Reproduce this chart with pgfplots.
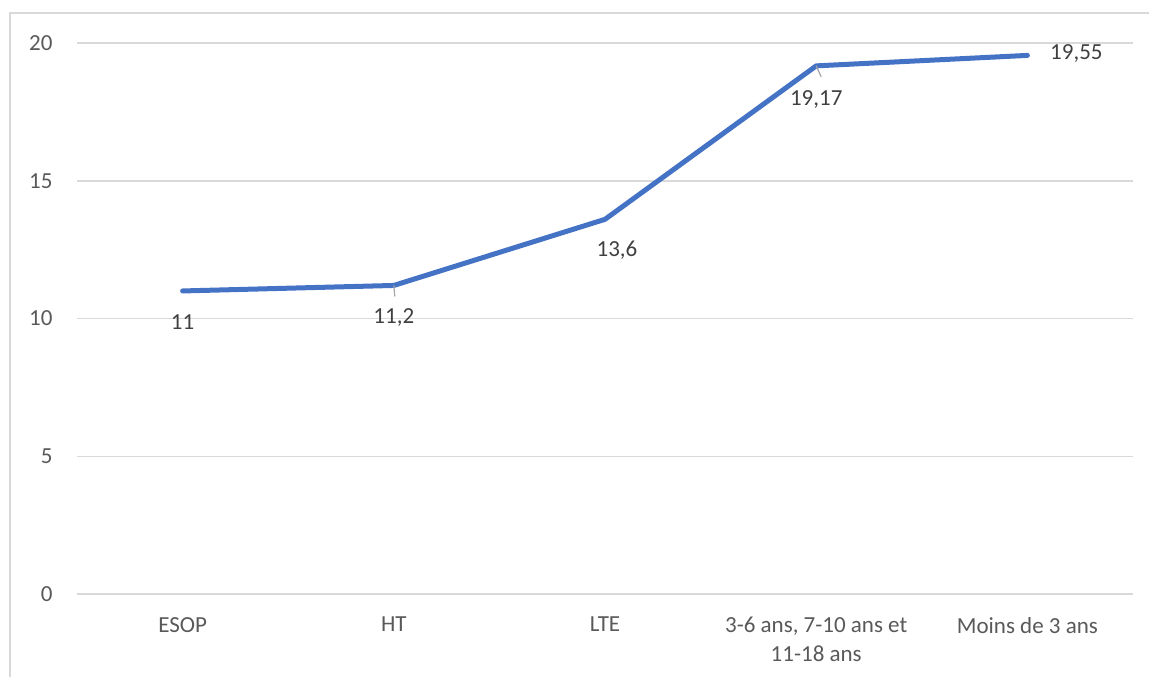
\documentclass[border=0pt]{standalone}
\usepackage{pgfplots}
\pgfplotsset{compat=1.18}
\usepackage{fontspec}
\setmainfont{Carlito}
\definecolor{lineblue}{HTML}{4472C4}
\definecolor{gridgray}{HTML}{D9D9D9}
\definecolor{ticktext}{HTML}{595959}
\definecolor{labeltext}{HTML}{404040}
\definecolor{leader}{HTML}{A6A6A6}
\begin{document}
\begin{tikzpicture}
\useasboundingbox (0,0) rectangle (574.5pt,338.5pt);
\draw[gridgray, line width=0.75pt] (5pt,0) -- (5pt,332pt) -- (574.5pt,332pt);
\begin{axis}[
  at={(38.5pt,41.5pt)}, anchor=south west,
  scale only axis, width=528pt, height=275.5pt,
  xmin=-0.5, xmax=4.5, ymin=0, ymax=20,
  axis line style={draw=none},
  ytick={0,5,10,15,20}, xtick={0,1,2,3,4},
  xticklabels={ESOP, HT, LTE, {3-6 ans, 7-10 ans et\\11-18 ans}, Moins de 3 ans},
  ymajorgrids, grid style={gridgray, line width=0.75pt},
  major tick length=0pt,
  tick label style={font=\fontsize{11.5}{14.5}\selectfont, text=ticktext},
  xticklabel style={align=center, anchor=north, yshift=-8pt},
  yticklabel style={anchor=east, xshift=-8.7pt},
  /pgf/number format/assume math mode=true,
  clip=false,
]
\addplot[lineblue, line width=2.5pt, line join=round, line cap=round, mark=none]
  coordinates {(0,11) (1,11.2) (2,13.6) (3,19.17) (4,19.55)};
\draw[leader, line width=0.6pt] (axis cs:1,11.2) -- ++(0.5pt,-5.5pt);
\draw[leader, line width=0.6pt] (axis cs:3,19.17) -- ++(2.5pt,-5.5pt);
\tikzset{dl/.style={text=labeltext, font=\fontsize{11.5}{14}\selectfont, inner sep=0pt}}
\node[dl, yshift=-15.5pt] at (axis cs:0,11) {11};
\node[dl, yshift=-16pt] at (axis cs:1,11.2) {11,2};
\node[dl, xshift=6pt, yshift=-15.5pt] at (axis cs:2,13.6) {13,6};
\node[dl, yshift=-17pt] at (axis cs:3,19.17) {19,17};
\node[dl, xshift=24.5pt, yshift=1pt] at (axis cs:4,19.55) {19,55};
\end{axis}
\end{tikzpicture}
\end{document}
